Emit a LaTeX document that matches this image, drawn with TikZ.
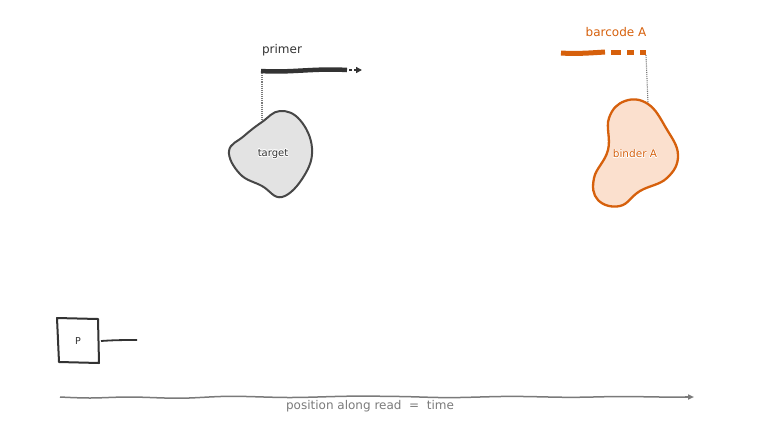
\documentclass[tikz,border=0pt]{standalone}
\usepackage{fontspec}
\setmainfont{DejaVu Sans}
\usetikzlibrary{arrows.meta}
\definecolor{ink}{HTML}{333333}
\definecolor{org}{HTML}{D6600C}
\definecolor{orgfill}{HTML}{FBE0CE}
\definecolor{grayfill}{HTML}{E3E3E3}
\definecolor{axisgray}{HTML}{7A7A7A}
\newcommand{\halotext}[2]{% #1 colour, #2 text
  \makebox[0pt]{\color{white}\makebox[0pt]{\raisebox{0.7pt}{#2}}\makebox[0pt]{\raisebox{-0.7pt}{#2}}\makebox[0pt]{\hspace{1.4pt}#2}\makebox[0pt]{\hspace{-1.4pt}#2}\makebox[0pt]{\hspace{1pt}\raisebox{0.6pt}{#2}}\makebox[0pt]{\hspace{-1pt}\raisebox{0.6pt}{#2}}\makebox[0pt]{\hspace{1pt}\raisebox{-0.6pt}{#2}}\makebox[0pt]{\hspace{-1pt}\raisebox{-0.6pt}{#2}}}%
  \makebox[0pt]{\color{#1}#2}}
\tikzset{
  lbl/.style={font=\fontsize{12}{14}\selectfont, inner sep=0pt},
  blobline/.style={line width=2pt, line join=round},
  guide/.style={densely dotted, line width=1.1pt, color=axisgray},
}
\begin{document}
\begin{tikzpicture}[x=1pt,y=-1pt]
\useasboundingbox (0,0) rectangle (760,432);

% ---- primer / target ----
\node[lbl, text=ink] (primerlbl) at (282,50) {primer};
\coordinate (p0) at (261,71);
\coordinate (p1) at (347,70);
\coordinate (p2) at (362,70);
\draw[ink, line width=4.5pt] (p0) .. controls (290,73) and (315,68) .. (p1);
\draw[ink, line width=1.8pt] (349,70) -- (352,70);
\draw[ink, line width=1.8pt, -{Triangle[length=6pt,width=6pt]}] (354,70) -- (p2);
\draw[guide] (262,73) -- (262,121);
\draw[blobline, draw=ink!90, fill=grayfill] plot[smooth cycle, tension=0.7] coordinates {
  (262,122) (280,111) (300,120) (312,148) (304,176) (282,197) (262,186) (240,174) (229,151) (244,136)};
\node[inner sep=0pt, font=\fontsize{10}{12}\selectfont] (target) at (273,154) {\halotext{ink}{target}};

% ---- barcode / binder ----
\node[lbl, text=org] (barcodelbl) at (616,32) {barcode A};
\coordinate (b0) at (561,53);
\coordinate (b1) at (605,52);
\draw[org, line width=5pt] (b0) .. controls (575,54) and (590,53) .. (b1);
\draw[org, line width=5pt] (611,52) -- (621,52) (627,52) -- (634,52) (640,52) -- (646,52);
\draw[guide] (646,55) -- (648,103);
\draw[line width=2.3pt, line join=round, draw=org, fill=orgfill] plot[smooth cycle, tension=0.7] coordinates {
  (648,104) (666,128) (678,155) (667,178) (640,191) (620,206) (598,200) (594,178) (608,150) (609,118) (625,101)};
\node[inner sep=0pt, font=\fontsize{10.5}{12}\selectfont] (binder) at (635,154) {\halotext{org}{binder A}};

% ---- P box ----
\draw[ink, line width=2pt, line join=round] (57,318) -- (98,319) -- (99,363) -- (59,362) -- cycle;
\node[inner sep=0pt, font=\fontsize{9.5}{11}\selectfont, text=ink] (P) at (78,341) {P};
\coordinate (pl) at (137,340);
\draw[ink, line width=1.8pt] (101,341) .. controls (115,340) and (125,340) .. (pl);

% ---- axis ----
\coordinate (a0) at (60,397);
\coordinate (a1) at (694,397);
\draw[axisgray, line width=1.5pt] plot[smooth, tension=0.6] coordinates {
  (a0) (90,398) (130,397) (180,398.2) (230,396.3) (290,397.5) (350,396.2) (400,396.5) (450,397.6) (510,396.4) (570,397.3) (620,396.5) (660,397) (686,397)};
\draw[axisgray, line width=1.5pt, -{Triangle[length=6pt,width=5pt]}] (685,397) -- (a1);
\node[lbl, font=\fontsize{12}{14}\selectfont, text=axisgray] (axislbl) at (370,406) {position along read\ \ =\ \ time};
\end{tikzpicture}
\end{document}
